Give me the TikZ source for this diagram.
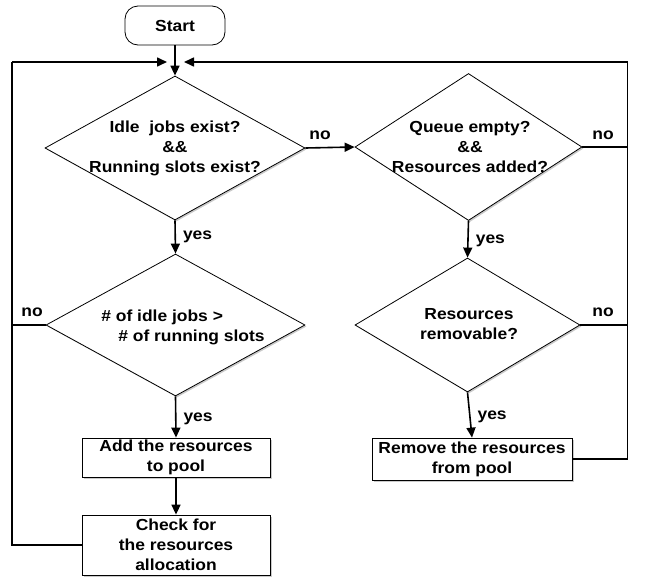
\documentclass[tikz,border=0pt]{standalone}
\usepackage{fontspec}
\setmainfont{Liberation Sans}[FakeStretch=1.09]
\usetikzlibrary{shapes.geometric,arrows.meta,shadows}
\begin{document}
\begin{tikzpicture}[x=1pt,y=-1pt,
  every node/.style={font=\fontsize{16}{20}\selectfont\bfseries},
  shd/.style={drop shadow={shadow xshift=1.5pt,shadow yshift=-1.5pt,opacity=0.35,fill=black!60}},
  dia/.style={diamond,draw,line width=0.8pt,fill=white,shd,inner sep=0pt},
  proc/.style={rectangle,draw,line width=0.8pt,fill=white,shd,inner sep=0pt,align=center},
  term/.style={rectangle,rounded corners=13pt,draw,line width=0.8pt,fill=white,inner sep=0pt},
  txt/.style={align=center,inner sep=0pt},
  conn/.style={line width=1.6pt},
  arr/.style={conn,-{Triangle[length=10pt,width=9pt]}},
  lab/.style={inner sep=0pt}
]
\useasboundingbox (0,0) rectangle (648,581);

% nodes
\node[term,minimum width=100pt,minimum height=39pt] (start) at (175,25.5) {Start};

\node[dia,minimum width=260pt,minimum height=144pt] (d1) at (175,148) {};
\node[txt] (d1t) at (175,148) {Idle\ \ jobs exist?\\\&\&\\Running slots exist?};

\node[dia,minimum width=227pt,minimum height=147pt] (d2) at (468.5,147) {};
\node[txt] (d2t) at (470,147) {Queue empty?\\\&\&\\Resources added?};

\node[dia,minimum width=259pt,minimum height=142pt] (d3) at (175.5,325) {};
\node[txt,align=left] (d3t) at (183,327) {\# of idle jobs >\\\hspace{17pt}\# of running slots};

\node[dia,minimum width=225pt,minimum height=134pt] (d4) at (467.5,325) {};
\node[txt] (d4t) at (469,324) {Resources\\removable?};

\node[proc,minimum width=188pt,minimum height=39pt] (add) at (176,457.5) {Add the resources\\to pool};
\node[proc,minimum width=188pt,minimum height=60pt] (chk) at (176,545) {Check for\\the resources\\allocation};
\node[proc,minimum width=200pt,minimum height=42pt] (rem) at (472,459) {Remove the resources\\from pool};

% coordinates
\coordinate (lt) at (12,62);
\coordinate (rt) at (627.5,62);
\coordinate (jl) at (167,62);
\coordinate (jr) at (184,62);

% connectors
\draw[arr] (start.south) -- (d1.north);
\draw[arr] (d1.south) -- node[lab,anchor=west,xshift=7pt] (y1) {yes} (d3.north);
\draw[arr] (d3.south) -- node[lab,anchor=west,xshift=7pt,yshift=-2pt] (y2) {yes} (add.north);
\draw[arr] (add.south) -- (chk.north);
\draw[arr] (d2.south) -- node[lab,anchor=west,xshift=7pt,yshift=-2pt] (y3) {yes} (d4.north);
\draw[arr] (d4.south) -- node[lab,anchor=west,xshift=7pt,yshift=-2pt] (y4) {yes} (rem.north);

\draw[arr] (d1.east) -- (d2.west);
\node[lab] (n1) at (320,135) {no};

\draw[conn] (chk.west) -| (lt);
\draw[arr] (lt) -- (jl);
\draw[conn] (d3.west) -- (d3.west -| lt);
\node[lab] (n3) at (32,312) {no};

\draw[conn] (rem.east) -| (rt);
\draw[arr] (rt) -- (jr);
\draw[conn] (d2.east) -- (d2.east -| rt);
\node[lab] (n2) at (603,135) {no};
\draw[conn] (d4.east) -- (d4.east -| rt);
\node[lab] (n4) at (603,312) {no};
\end{tikzpicture}
\end{document}
